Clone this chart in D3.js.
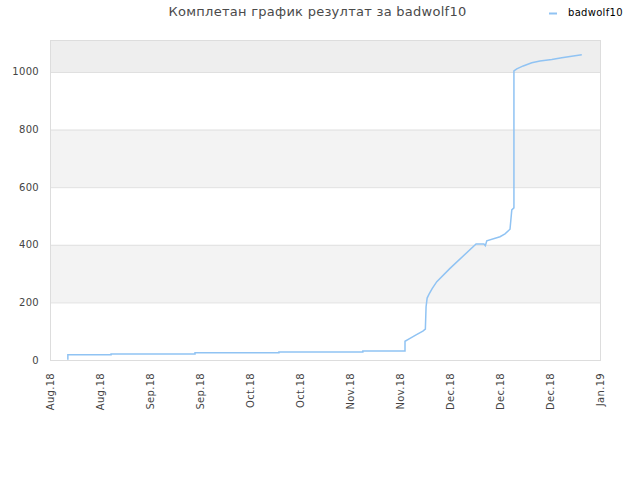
<!DOCTYPE html>
<html>
<head>
<meta charset="utf-8">
<script src="https://cdn.jsdelivr.net/npm/d3@7"></script>
<style>
  body { margin: 0; background: #fff; }
  text { font-family: "DejaVu Sans", sans-serif; }
</style>
</head>
<body>
<script>
// day offsets (14 days per tick) and score values
var days = [5.0, 5.0, 17.1, 17.1, 40.6, 40.6, 64.1, 64.1, 87.6, 87.6, 99.4, 99.4,
  100.8, 102.5, 104.4, 105.1, 105.3, 105.6, 106.1, 107.0, 108.3, 112.0, 119.3,
  121.5, 121.9, 122.3, 126.0, 127.4, 128.8, 129.3, 129.9, 129.9, 130.7, 132.5,
  134.9, 137.2, 140.5, 143.3, 145.6, 148.9];
var scores = [1, 18, 18, 21, 21, 25, 25, 28, 28, 31, 31, 65,
  75, 87, 100, 107, 185, 215, 228, 248, 272, 318, 403,
  403, 397, 414, 428, 438, 454, 521, 528, 1004, 1011, 1021,
  1032, 1038, 1043, 1049, 1054, 1060];
var tickDays = [0, 14, 28, 42, 56, 70, 84, 98, 112, 126, 140, 154];
var tickLabels = ["Aug.18", "Aug.18", "Sep.18", "Sep.18", "Oct.18", "Oct.18",
  "Nov.18", "Nov.18", "Dec.18", "Dec.18", "Dec.18", "Jan.19"];
var yTicks = [0, 200, 400, 600, 800, 1000];

const W = 640, H = 480;
const L = 50, R = 600, T = 40, B = 360;

var svg = d3.select("body").append("svg")
  .attr("width", W).attr("height", H);

var x = d3.scaleLinear().domain([0, 154]).range([L, R]);
var y = d3.scaleLinear().domain([0, 1111]).range([B, T]);

// alternating bands
var bands = [[200, 400], [600, 800]];
svg.selectAll("rect.band").data(bands).enter().append("rect")
  .attr("class", "band")
  .attr("x", L).attr("width", R - L)
  .attr("y", function(d){ return y(d[1]); })
  .attr("height", function(d){ return y(d[0]) - y(d[1]); })
  .attr("fill", "#f3f3f3");
svg.append("rect")
  .attr("x", L).attr("width", R - L)
  .attr("y", T).attr("height", y(1000) - T)
  .attr("fill", "#eeeeee");

// grid lines
svg.selectAll("line.grid").data(yTicks.slice(1)).enter().append("line")
  .attr("x1", L).attr("x2", R)
  .attr("y1", function(d){ return y(d) + 0.5; })
  .attr("y2", function(d){ return y(d) + 0.5; })
  .attr("stroke", "#e0e0e0");

// frame
svg.append("rect")
  .attr("x", L + 0.5).attr("y", T + 0.5)
  .attr("width", R - L).attr("height", B - T)
  .attr("fill", "none").attr("stroke", "#dddddd");

// y labels
svg.selectAll("text.ylab").data(yTicks).enter().append("text")
  .attr("x", L - 11).attr("y", function(d){ return y(d); })
  .attr("dy", "0.35em").attr("text-anchor", "end")
  .attr("font-size", 10).attr("letter-spacing", 0.3).attr("fill", "#444")
  .text(function(d){ return d; });

// x labels
var xAxis = d3.axisBottom(x).tickValues(tickDays)
  .tickFormat(function(d, i){ return tickLabels[i]; })
  .tickSize(0);
var gx = svg.append("g").attr("transform", "translate(-0.5," + (B + 13) + ")").call(xAxis);
gx.select(".domain").remove();
gx.selectAll("text")
  .attr("font-family", "DejaVu Sans, sans-serif")
  .attr("font-size", 10).attr("letter-spacing", 0.3).attr("fill", "#444")
  .attr("text-anchor", "end")
  .attr("transform", "rotate(-90)")
  .attr("x", 0).attr("y", 0).attr("dx", 0).attr("dy", "0.35em");

// line
var pts = days.map(function(d, i){ return [d, scores[i]]; });
svg.append("path")
  .attr("d", d3.line().x(function(d){ return x(d[0]); }).y(function(d){ return y(d[1]); })(pts))
  .attr("fill", "none").attr("stroke", "#90c3f3").attr("stroke-width", 1.5);

// title
svg.append("text").attr("x", 317.5).attr("y", 16)
  .attr("text-anchor", "middle").attr("font-size", 13).attr("letter-spacing", 0.27)
  .attr("fill", "#4a4a4a")
  .text("Комплетан график резултат за badwolf10");

// legend
svg.append("line").attr("x1", 549).attr("x2", 557).attr("y1", 13.5).attr("y2", 13.5)
  .attr("stroke", "#90c3f3").attr("stroke-width", 2);
svg.append("text").attr("x", 568).attr("y", 16)
  .attr("font-size", 10).attr("letter-spacing", 0.3).attr("fill", "#000")
  .text("badwolf10");
</script>
</body>
</html>
